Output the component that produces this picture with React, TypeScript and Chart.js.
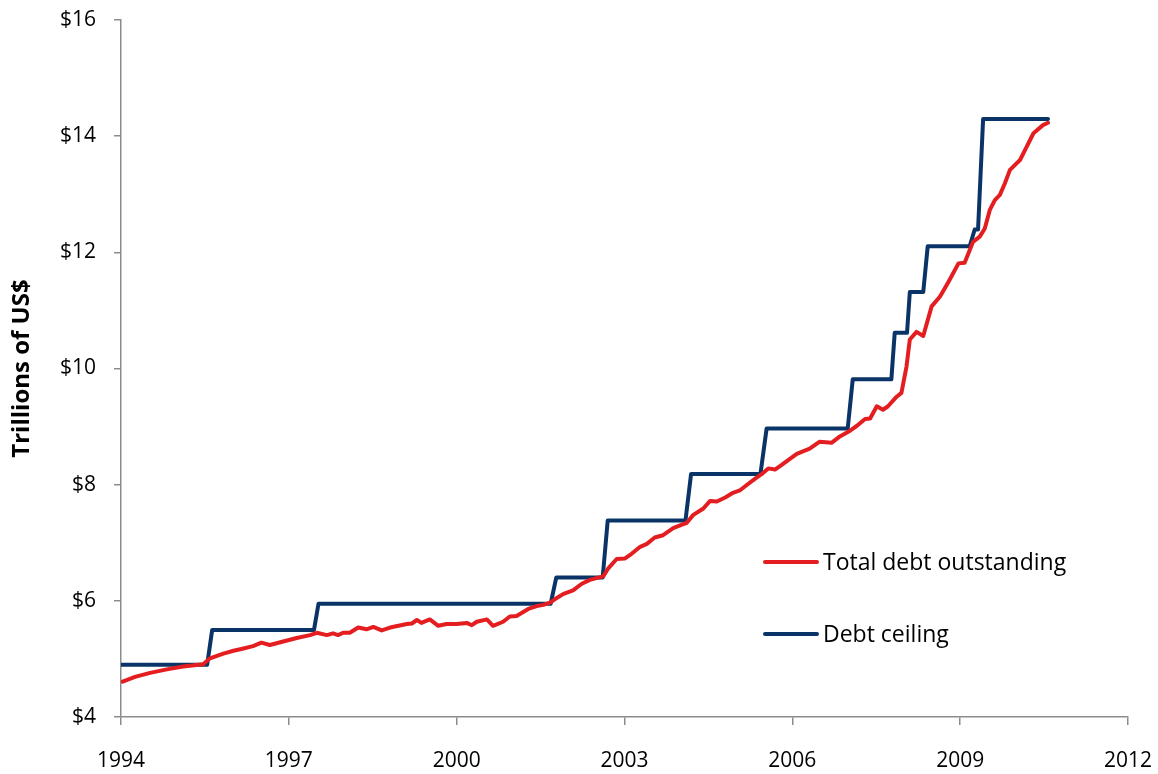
import React, { useEffect, useRef } from "react";
import { Chart, registerables } from "chart.js";

Chart.register(...registerables);

// Total debt outstanding (year as decimal, trillions of US$)
const debtYears = [
  1994.03, 1994.25, 1994.52, 1994.82, 1995.11, 1995.47, 1995.59, 1995.83, 1996.01, 1996.19,
  1996.36, 1996.51, 1996.66, 1996.9, 1997.14, 1997.38, 1997.5, 1997.68, 1997.79, 1997.88,
  1997.97, 1998.09, 1998.24, 1998.39, 1998.51, 1998.66, 1998.81, 1998.96, 1999.11, 1999.2,
  1999.29, 1999.37, 1999.52, 1999.67, 1999.82, 2000.0, 2000.18, 2000.27, 2000.36, 2000.54,
  2000.65, 2000.83, 2000.95, 2001.07, 2001.16, 2001.28, 2001.43, 2001.55, 2001.67, 2001.79,
  2001.91, 2002.02, 2002.08, 2002.23, 2002.38, 2002.62, 2002.71, 2002.86, 2003.01, 2003.1,
  2003.28, 2003.4, 2003.54, 2003.69, 2003.87, 2004.05, 2004.11, 2004.23, 2004.41, 2004.53,
  2004.65, 2004.8, 2004.94, 2005.06, 2005.18, 2005.33, 2005.45, 2005.57, 2005.69, 2005.81,
  2005.95, 2006.08, 2006.31, 2006.49, 2006.7, 2006.85, 2007.0, 2007.15, 2007.3, 2007.39,
  2007.51, 2007.62, 2007.71, 2007.86, 2007.95, 2008.04, 2008.1, 2008.22, 2008.34, 2008.49,
  2008.64, 2008.79, 2008.97, 2009.08, 2009.23, 2009.35, 2009.44, 2009.53, 2009.62, 2009.71,
  2009.8, 2009.89, 2010.07, 2010.19, 2010.31, 2010.48, 2010.57,
];
const debtValues = [
  4.61, 4.69, 4.76, 4.82, 4.87, 4.91, 5.01, 5.09, 5.14, 5.18,
  5.22, 5.28, 5.24, 5.3, 5.36, 5.41, 5.45, 5.41, 5.44, 5.41,
  5.45, 5.45, 5.54, 5.51, 5.55, 5.49, 5.54, 5.57, 5.6, 5.61,
  5.67, 5.62, 5.68, 5.57, 5.6, 5.6, 5.62, 5.58, 5.64, 5.68,
  5.57, 5.64, 5.73, 5.74, 5.79, 5.86, 5.91, 5.93, 5.97, 6.05,
  6.12, 6.16, 6.18, 6.29, 6.36, 6.42, 6.56, 6.72, 6.73, 6.79,
  6.93, 6.98, 7.09, 7.13, 7.25, 7.32, 7.34, 7.48, 7.59, 7.72,
  7.71, 7.78, 7.86, 7.9, 7.99, 8.1, 8.18, 8.28, 8.26, 8.34,
  8.44, 8.53, 8.62, 8.74, 8.72, 8.83, 8.91, 9.01, 9.13, 9.14,
  9.35, 9.29, 9.35, 9.51, 9.58, 10.03, 10.5, 10.63, 10.56, 11.07,
  11.24, 11.49, 11.81, 11.82, 12.18, 12.27, 12.41, 12.73, 12.9, 12.99,
  13.19, 13.42, 13.59, 13.82, 14.05, 14.19, 14.23,
];

// Debt ceiling (step series)
const ceilingYears = [
  1994.0, 1995.54, 1995.63, 1997.45, 1997.53, 2001.68, 2001.78, 2002.61, 2002.7,
  2004.09, 2004.19, 2005.43, 2005.54, 2006.99, 2007.08, 2007.77, 2007.83, 2008.05,
  2008.1, 2008.34, 2008.42, 2009.17, 2009.26, 2009.32, 2009.41, 2010.57,
];
const ceilingValues = [
  4.9, 4.9, 5.5, 5.5, 5.95, 5.95, 6.4, 6.4, 7.384,
  7.384, 8.184, 8.184, 8.965, 8.965, 9.815, 9.815, 10.615, 10.615,
  11.315, 11.315, 12.104, 12.104, 12.394, 12.394, 14.294, 14.294,
];

const xTickValues = [1994, 1997, 2000, 2003, 2006, 2009, 2012];
const yTickValues = [4, 6, 8, 10, 12, 14, 16];
const seriesNames = ["Total debt outstanding", "Debt ceiling"];
const yAxisTitle = "Trillions of US$";

const RED = "#E41E20";
const BLUE = "#0A3467";
const AXIS = "#8C8C8C";
const FONT = "'Open Sans', Lato, sans-serif";

const legendPlugin = {
  id: "customLegend",
  afterDraw(chart: any) {
    const ctx = chart.ctx;
    const items = [
      { label: seriesNames[0], color: RED, y: 562 },
      { label: seriesNames[1], color: BLUE, y: 634 },
    ];
    ctx.save();
    items.forEach((it) => {
      ctx.strokeStyle = it.color;
      ctx.lineWidth = 4;
      ctx.lineCap = "round";
      ctx.beginPath();
      ctx.moveTo(765, it.y);
      ctx.lineTo(817, it.y);
      ctx.stroke();
      ctx.fillStyle = "#000";
      ctx.font = `23px ${FONT}`;
      ctx.textBaseline = "middle";
      ctx.textAlign = "left";
      ctx.fillText(it.label, 823, it.y + 1);
    });
    ctx.restore();
  },
};

export default function App() {
  const ref = useRef<HTMLCanvasElement | null>(null);

  useEffect(() => {
    if (!ref.current) return;
    const chart = new Chart(ref.current, {
      type: "line",
      data: {
        datasets: [
          {
            label: seriesNames[0],
            data: debtYears.map((x, i) => ({ x, y: debtValues[i] })),
            borderColor: RED,
            backgroundColor: RED,
            borderWidth: 4,
            pointRadius: 0,
            tension: 0,
            borderJoinStyle: "round",
            borderCapStyle: "round",
          },
          {
            label: seriesNames[1],
            data: ceilingYears.map((x, i) => ({ x, y: ceilingValues[i] })),
            borderColor: BLUE,
            backgroundColor: BLUE,
            borderWidth: 4,
            pointRadius: 0,
            tension: 0,
            borderJoinStyle: "round",
            borderCapStyle: "round",
          },
        ],
      },
      options: {
        responsive: false,
        animation: false,
        devicePixelRatio: 1,
        layout: { padding: { top: 20, right: 30, left: 0, bottom: 0 } },
        plugins: {
          legend: { display: false },
          tooltip: { enabled: false },
        },
        scales: {
          x: {
            type: "linear",
            min: 1994,
            max: 2012,
            afterBuildTicks: (scale: any) => {
              scale.ticks = xTickValues.map((v) => ({ value: v }));
            },
            afterFit: (scale: any) => {
              scale.height = 57;
              scale.paddingLeft = 0;
              scale.paddingRight = 0;
            },
            ticks: {
              color: "#000",
              font: { family: FONT, size: 21 },
              padding: 23,
              maxRotation: 0,
              callback: (v: any) => String(v),
            },
            grid: {
              drawOnChartArea: false,
              drawTicks: true,
              tickLength: 8,
              color: AXIS,
              lineWidth: 1.5,
            },
            border: { color: AXIS, width: 1.5 },
          },
          y: {
            type: "linear",
            min: 4,
            max: 16,
            afterBuildTicks: (scale: any) => {
              scale.ticks = yTickValues.map((v) => ({ value: v }));
            },
            afterFit: (scale: any) => {
              scale.width = 121;
              scale.paddingTop = 0;
              scale.paddingBottom = 0;
            },
            ticks: {
              color: "#000",
              font: { family: FONT, size: 21 },
              padding: 18,
              callback: (v: any) => "$" + v,
            },
            grid: {
              drawOnChartArea: false,
              drawTicks: true,
              tickLength: 7,
              color: AXIS,
              lineWidth: 1.5,
            },
            border: { color: AXIS, width: 1.5 },
            title: {
              display: true,
              text: yAxisTitle,
              color: "#000",
              font: { family: FONT, size: 24, weight: "bold" },
              padding: { top: 8, bottom: 0 },
            },
          },
        },
      },
      plugins: [legendPlugin],
    });
    return () => chart.destroy();
  }, []);

  return (
    <div style={{ position: "fixed", left: 0, top: 0, width: 1158, height: 774, background: "#fff" }}>
      <canvas ref={ref} width={1158} height={774} />
    </div>
  );
}
